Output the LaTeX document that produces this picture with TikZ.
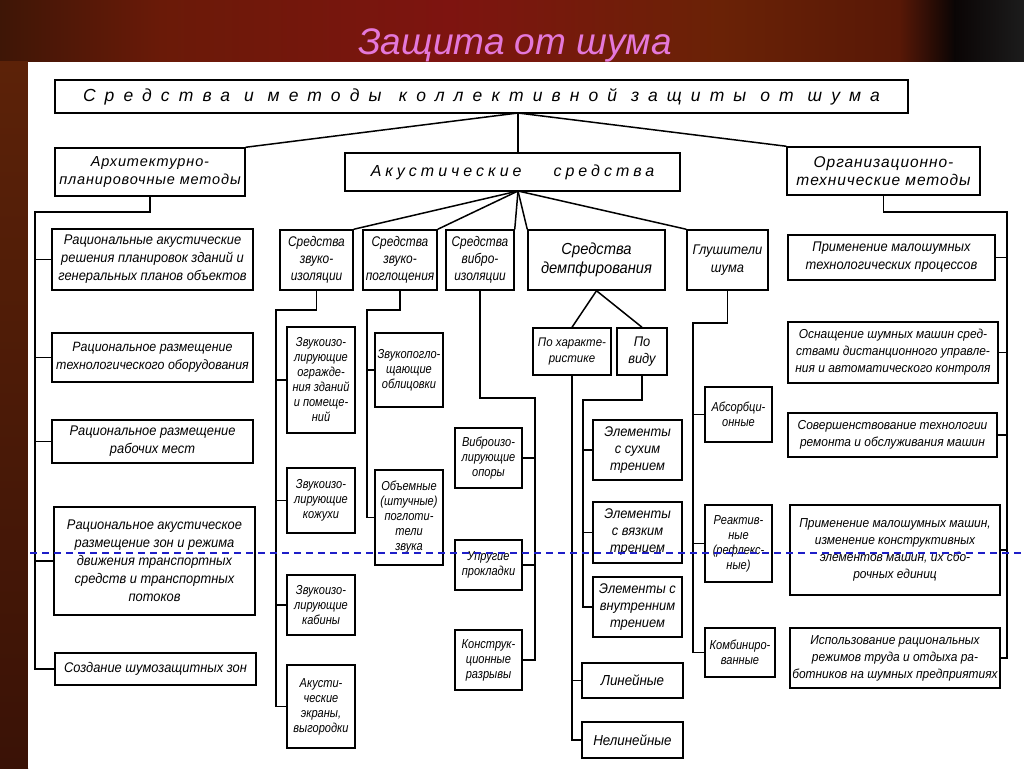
\documentclass[tikz,border=0pt]{standalone}
\usepackage{fontspec}
\setmainfont{Liberation Sans}
\newfontfamily\dfont{Liberation Sans}[FakeStretch=0.92]
\newfontfamily\nfont{Liberation Sans}[FakeStretch=0.85]
\newfontfamily\tfont{Liberation Sans}
\newfontfamily\hfont{Liberation Sans}[LetterSpace=52]
\newfontfamily\afont{Liberation Sans}[LetterSpace=25]
\newfontfamily\mfont{Liberation Sans}[LetterSpace=6]
\definecolor{titlepink}{RGB}{228,120,218}
\definecolor{bgA}{RGB}{62,22,6}
\definecolor{bgB}{RGB}{106,26,8}
\definecolor{bgC}{RGB}{126,20,16}
\definecolor{bgD}{RGB}{106,34,6}
\definecolor{bgE}{RGB}{88,24,6}
\definecolor{bgF}{RGB}{10,5,5}
\definecolor{bgG}{RGB}{28,28,28}
\definecolor{bgL}{RGB}{92,34,8}
\definecolor{bgM}{RGB}{58,18,6}
\definecolor{dashblue}{RGB}{30,30,200}
\begin{document}
\begin{tikzpicture}[x=1pt,y=-1pt,
  box/.style={draw=black, line width=1.5pt, inner sep=1pt, align=center,
    font=\dfont\itshape\fontsize{13}{17}\selectfont},
  lbox/.style={box, font=\dfont\itshape\fontsize{14}{18}\selectfont},
  nbox/.style={box, font=\nfont\itshape\fontsize{13}{15}\selectfont},
  sz/.style n args={2}{minimum width=#1, minimum height=#2},
  ln/.style={draw=black, line width=1.5pt}]
\useasboundingbox (0,0) rectangle (1024,768);
% background
\shade[left color=bgA, right color=bgB] (0,0) rectangle (160,62);
\shade[left color=bgB, right color=bgC] (159,0) rectangle (450,62);
\shade[left color=bgC, right color=bgD] (449,0) rectangle (720,62);
\shade[left color=bgD, right color=bgE] (719,0) rectangle (900,62);
\shade[left color=bgE, right color=bgF] (899,0) rectangle (955,62);
\shade[left color=bgF, right color=bgG] (954,0) rectangle (1024,62);
\shade[top color=bgL, bottom color=bgM] (0,61) rectangle (28,768);
\fill[white] (28,62) rectangle (1024,768);
% title
\node[font=\tfont\itshape\fontsize{37}{42}\selectfont, text=titlepink, anchor=base] (title) at (515,55) {Защита от шума};
% top level
\node[box, sz={853}{33}, font=\hfont\itshape\fontsize{17.5}{20}\selectfont] (top) at (481.5,96.5) {Средства и методы\quad коллективной защиты от шума};
\node[box, sz={190}{48}, font=\mfont\itshape\fontsize{14.5}{18}\selectfont] (arch) at (150,172) {Архитектурно-\\планировочные методы};
\node[box, sz={335}{38}, font=\afont\itshape\fontsize{16}{19}\selectfont] (acou) at (512.5,172) {Акустические\quad\quad средства};
\node[box, sz={193}{48}, font=\mfont\itshape\fontsize{15.5}{18}\selectfont] (org) at (883.5,171) {Организационно-\\технические методы};
\coordinate (tap) at (518,113);
\draw[ln] (tap) -- (arch.north east);
\draw[ln] (tap) -- (org.north west);
\draw[ln] (tap) -- (tap |- acou.north);
% left column
\node[lbox, sz={201}{61}] (L1) at (152.5,259.5) {Рациональные акустические\\решения планировок зданий и\\генеральных планов объектов};
\node[box, sz={201}{49}, font=\dfont\itshape\fontsize{13.5}{18}\selectfont] (L2) at (152.5,357.5) {Рациональное размещение\\технологического оборудования};
\node[lbox, sz={201}{43}] (L3) at (152.5,441.5) {Рациональное размещение\\рабочих мест};
\node[lbox, sz={201}{108}] (L4) at (154.5,561) {Рациональное акустическое\\размещение зон и режима\\движения транспортных\\средств и транспортных\\потоков};
\node[lbox, sz={201}{32}] (L5) at (155.5,669) {Создание шумозащитных зон};
\coordinate (lt) at (35,212);
\coordinate (lb) at (35,669);
\draw[ln] (arch.south) |- (lt) -- (lb) -- (L5.west);
\foreach \n in {L1,L2,L3,L4} \draw[ln] (\n.west) -- (\n.west -| lt);
% acoustic second level
\node[box, sz={73}{60}, font=\nfont\itshape\fontsize{14}{17}\selectfont] (S1) at (316.5,260) {Средства\\звуко-\\изоляции};
\node[box, sz={74}{60}, font=\nfont\itshape\fontsize{14}{17}\selectfont] (S2) at (400,260) {Средства\\звуко-\\поглощения};
\node[box, sz={68}{60}, font=\nfont\itshape\fontsize{14}{17}\selectfont] (S3) at (480,260) {Средства\\вибро-\\изоляции};
\node[box, sz={137}{60}, font=\dfont\itshape\fontsize{16}{19}\selectfont] (S4) at (596.5,260) {Средства\\демпфирования};
\node[box, sz={81}{60}, font=\dfont\itshape\fontsize{14}{18}\selectfont] (S5) at (727.5,260) {Глушители\\шума};
\coordinate (aap) at (518,191);
\draw[ln] (aap) -- (S1.north east);
\draw[ln] (aap) -- (S2.north east);
\draw[ln] (aap) -- (S3.north east);
\draw[ln] (aap) -- (S4.north west);
\draw[ln] (aap) -- (S5.north west);
% sound insulation
\node[nbox, sz={68}{106}] (A1) at (321,380) {Звукоизо-\\лирующие\\огражде-\\ния зданий\\и помеще-\\ний};
\node[nbox, sz={68}{65}] (A2) at (321,500.5) {Звукоизо-\\лирующие\\кожухи};
\node[nbox, sz={68}{60}] (A3) at (321,605) {Звукоизо-\\лирующие\\кабины};
\node[nbox, sz={68}{83}] (A4) at (321,706.5) {Акусти-\\ческие\\экраны,\\выгородки};
\coordinate (s1t) at (276,310);
\coordinate (s1b) at (276,706.5);
\draw[ln] (S1.south) |- (s1t) -- (s1b) -- (A4.west);
\foreach \n in {A1,A2,A3} \draw[ln] (\n.west) -- (\n.west -| s1t);
% sound absorption
\node[nbox, sz={68}{74}] (B1) at (409,370) {Звукопогло-\\щающие\\облицовки};
\node[nbox, sz={68}{95}] (B2) at (409,517.5) {Объемные\\(штучные)\\поглоти-\\тели\\звука};
\coordinate (s2t) at (367,310);
\coordinate (s2b) at (367,517.5);
\draw[ln] (S2.south) |- (s2t) -- (s2b) -- (B2.west);
\draw[ln] (B1.west) -- (B1.west -| s2t);
% vibration insulation
\node[nbox, sz={67}{60}] (C1) at (488.5,458) {Виброизо-\\лирующие\\опоры};
\node[nbox, sz={67}{50}] (C2) at (488.5,565) {Упругие\\прокладки};
\node[nbox, sz={67}{60}] (C3) at (488.5,660) {Конструк-\\ционные\\разрывы};
\coordinate (s3t) at (535,398);
\coordinate (s3b) at (535,660);
\draw[ln] (S3.south) |- (s3t) -- (s3b) -- (C3.east);
\foreach \n in {C1,C2} \draw[ln] (\n.east) -- (\n.east -| s3t);
% damping
\node[box, sz={78}{47}, font=\dfont\itshape\fontsize{12.5}{16}\selectfont] (D1) at (572,351.5) {По характе-\\ристике};
\node[box, sz={50}{47}, font=\dfont\itshape\fontsize{14}{17}\selectfont] (D2) at (642,351.5) {По\\виду};
\draw[ln] (S4.south) -- (D1.north);
\draw[ln] (S4.south) -- (D2.north);
\node[box, sz={101}{35}, font=\dfont\itshape\fontsize{14.5}{17}\selectfont] (E1) at (632.5,680.5) {Линейные};
\node[box, sz={101}{36}, font=\dfont\itshape\fontsize{14.5}{17}\selectfont] (E2) at (632.5,740) {Нелинейные};
\draw[ln] (D1.south) -- (D1.south |- E2.west) -- (E2.west);
\draw[ln] (E1.west) -- (E1.west -| D1.south);
\node[box, sz={89}{60}, font=\dfont\itshape\fontsize{14}{17}\selectfont] (F1) at (637.5,450) {Элементы\\с сухим\\трением};
\node[box, sz={89}{61}, font=\dfont\itshape\fontsize{14}{17}\selectfont] (F2) at (637.5,532.5) {Элементы\\с вязким\\трением};
\node[box, sz={89}{60}, font=\dfont\itshape\fontsize{14}{17}\selectfont] (F3) at (637.5,607) {Элементы с\\внутренним\\трением};
\coordinate (ft) at (583,400);
\coordinate (fb) at (583,607);
\draw[ln] (D2.south) |- (ft) -- (fb) -- (F3.west);
\foreach \n in {F1,F2} \draw[ln] (\n.west) -- (\n.west -| ft);
% silencers
\node[nbox, sz={67}{55}] (G1) at (738.5,414.5) {Абсорбци-\\онные};
\node[nbox, sz={67}{77}] (G2) at (738.5,543.5) {Реактив-\\ные\\(рефлекс-\\ные)};
\node[nbox, sz={70}{49}] (G3) at (740,652.5) {Комбиниро-\\ванные};
\coordinate (gt) at (693,323);
\coordinate (gb) at (693,652.5);
\draw[ln] (S5.south) |- (gt) -- (gb) -- (G3.west);
\foreach \n in {G1,G2} \draw[ln] (\n.west) -- (\n.west -| gt);
% right column
\node[lbox, sz={207}{45}] (R1) at (891.5,257.5) {Применение малошумных\\технологических процессов};
\node[box, sz={210}{61}] (R2) at (893,352.5) {Оснащение шумных машин сред-\\ствами дистанционного управле-\\ния и автоматического контроля};
\node[box, sz={209}{44}] (R3) at (892.5,435) {Совершенствование технологии\\ремонта и обслуживания машин};
\node[box, sz={210}{90}] (R4) at (895,550) {Применение малошумных машин,\\изменение конструктивных\\элементов машин, их сбо-\\рочных единиц};
\node[box, sz={210}{60}] (R5) at (895,658) {Использование рациональных\\режимов труда и отдыха ра-\\ботников на шумных предприятиях};
\coordinate (rt) at (1007,212);
\coordinate (rb) at (1007,658);
\draw[ln] (org.south) |- (rt) -- (rb) -- (R5.east);
\foreach \n in {R1,R2,R3,R4} \draw[ln] (\n.east) -- (\n.east -| rt);
% blue dashed guide
\coordinate (dl) at (30,553);
\coordinate (dr) at (1024,553);
\draw[dashblue, line width=1.4pt, dash pattern=on 7pt off 5pt] (dl) -- (dr);
\end{tikzpicture}
\end{document}
